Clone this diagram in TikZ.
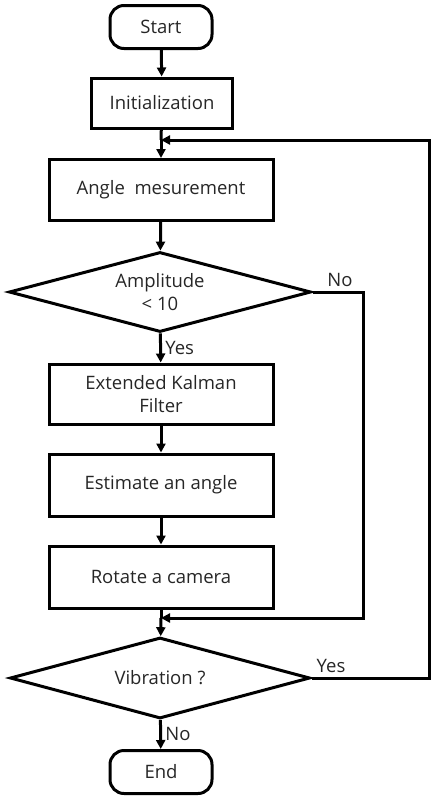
\documentclass[tikz,border=0pt]{standalone}
\usepackage{fontspec}
\setmainfont{Open Sans}
\usetikzlibrary{shapes.geometric,arrows.meta}
\begin{document}
\begin{tikzpicture}[x=1pt,y=-1pt,
  every node/.style={font=\fontsize{18.5}{23}\selectfont, text=black!85},
  term/.style={draw, line width=3pt, rounded corners=14pt, minimum width=102pt, minimum height=43pt, inner sep=0pt},
  proc/.style={draw, line width=3pt, minimum height=61pt, minimum width=224pt, inner sep=0pt, align=center},
  dec/.style={draw, line width=3pt, diamond, aspect=3.75, minimum width=302pt, minimum height=80pt, inner sep=0pt, align=center},
  flow/.style={line width=3pt, -{Triangle[length=9pt,width=9pt]}},
  line/.style={line width=3pt},
  lbl/.style={font=\fontsize{18.5}{23}\selectfont}]
\useasboundingbox (0,0) rectangle (431,796);
\node[term] (start) at (161,27) {Start};
\node[proc, minimum width=141pt, minimum height=50pt] (init) at (162,103) {Initialization};
\node[proc, minimum height=61pt] (meas) at (161,190) {Angle\ \ mesurement};
\node[dec, minimum width=302pt, minimum height=80pt] (amp) at (160,292) {Amplitude\\{<}~10};
\node[proc, minimum height=60pt] (ekf) at (161,394) {Extended Kalman\\Filter};
\node[proc, minimum height=62pt] (est) at (161,485) {Estimate an angle};
\node[proc, minimum height=62pt] (rot) at (161,577) {Rotate a camera};
\node[dec, minimum width=300pt, minimum height=81pt] (vib) at (160,678) {Vibration ?};
\node[term] (end) at (161,772) {End};

\coordinate (j1) at (161,140);
\coordinate (j2) at (161,618);
\coordinate (r1) at (363,292);
\coordinate (r2) at (363,618);
\coordinate (e1) at (429,678);
\coordinate (e2) at (429,140);

\draw[flow] (start) -- (init);
\draw[line] (init) -- (j1);
\draw[flow] (j1) -- (meas);
\draw[flow] (meas) -- (amp);
\draw[flow] (amp) -- node[lbl, right, xshift=0pt] {Yes} (ekf);
\draw[flow] (ekf) -- (est);
\draw[flow] (est) -- (rot);
\draw[line] (rot) -- (j2);
\draw[flow] (j2) -- (vib);
\draw[flow] (vib) -- node[lbl, right, xshift=0pt] {No} (end);
\draw[flow] (amp.east) -- (r1) -- (r2) -- (j2);
\draw[flow] (vib.east) -- (e1) -- (e2) -- (j1);
\node[lbl] (no1) at (340,280) {No};
\node[lbl] (yes2) at (331,666) {Yes};
\end{tikzpicture}
\end{document}
